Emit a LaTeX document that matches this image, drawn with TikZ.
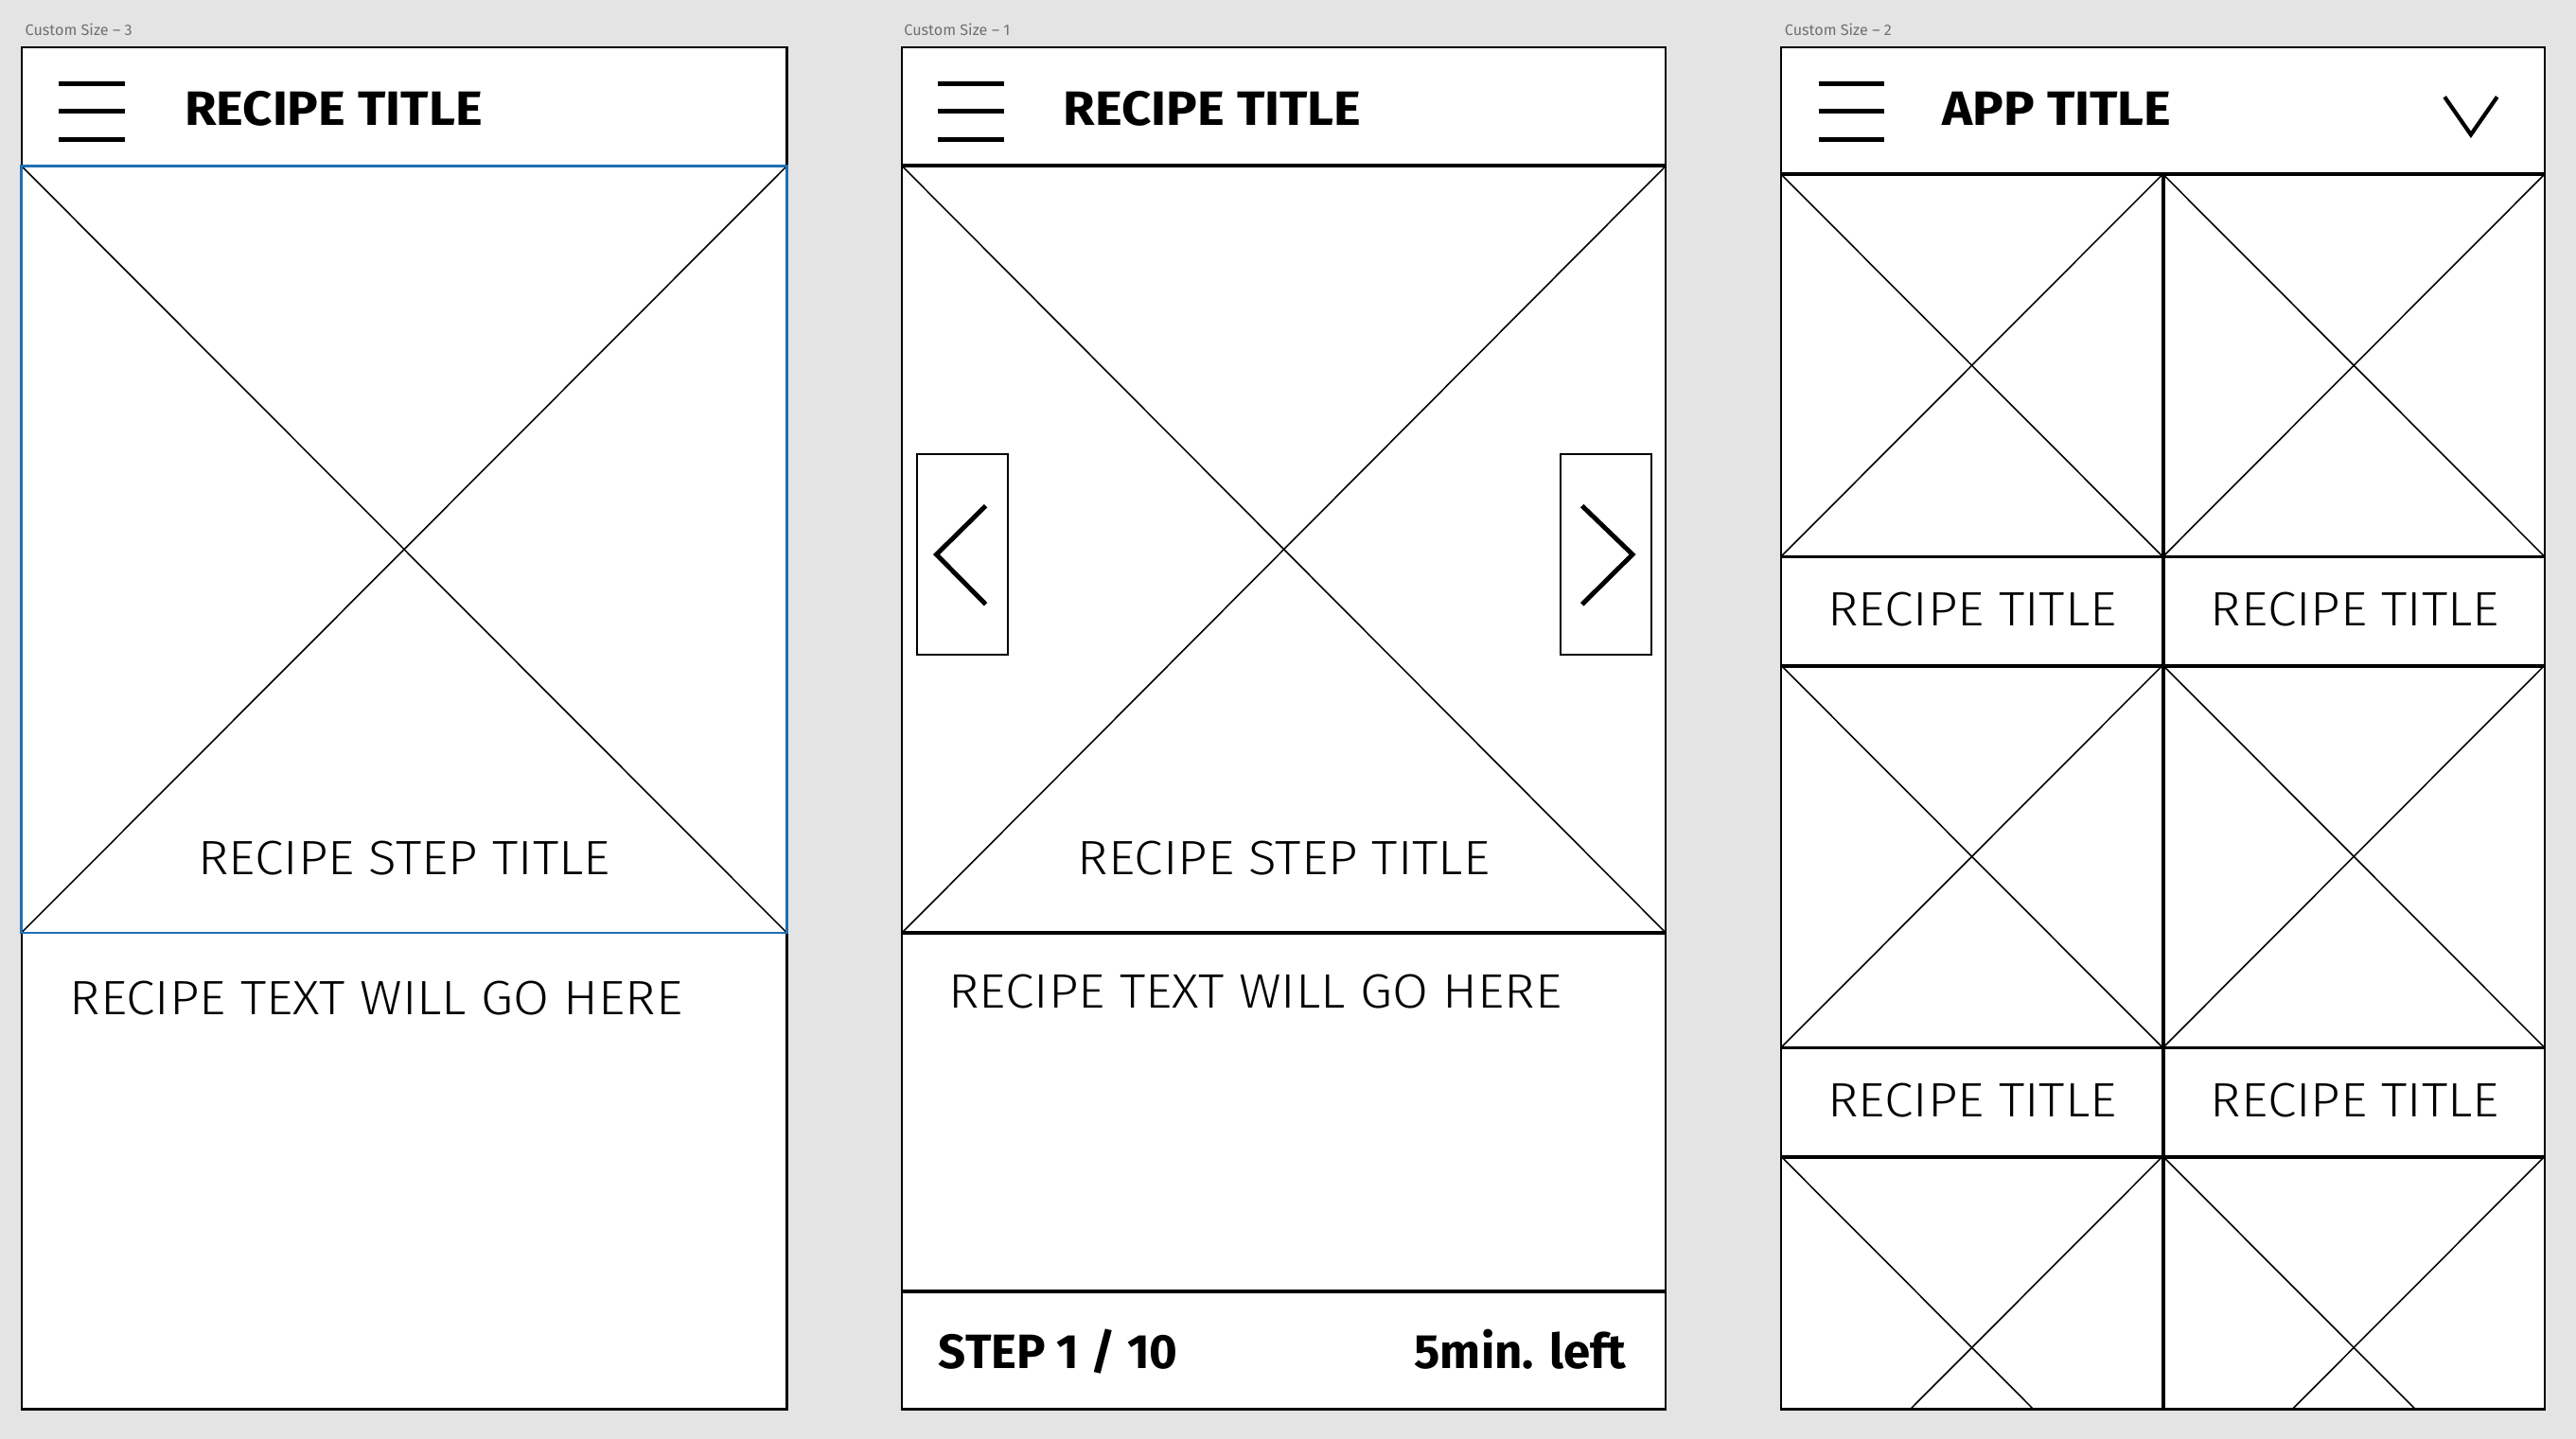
\documentclass[tikz,border=0pt]{standalone}
\usepackage{fontspec}
\setmainfont{Fira Sans}
\newfontfamily\lightfont[FakeStretch=1.08]{Fira Sans Light}
\newfontfamily\headfont[FakeStretch=1.07]{Fira Sans}
\usetikzlibrary{positioning}
\definecolor{bggray}{HTML}{E4E4E4}
\definecolor{capgray}{HTML}{707070}
\definecolor{selblue}{HTML}{1F6FB2}

\begin{document}
\begin{tikzpicture}[x=0.01736cm,y=-0.01736cm,
    panel/.style={draw=black,fill=white,line width=0.6pt},
    cross/.style={line width=0.45pt},
    bar/.style={line width=1.4pt},
    chev/.style={line width=1.4pt},
    rule/.style={line width=1.1pt},
    capt/.style={anchor=base west,text=capgray,font=\fontsize{4.6}{5}\selectfont,inner sep=0pt},
    head/.style={font=\headfont\fontsize{14.5}{16}\selectfont\bfseries,inner sep=0pt},
    foot/.style={font=\fontsize{14.5}{16}\selectfont\bfseries,inner sep=0pt},
    lighttext/.style={font=\lightfont\fontsize{14.5}{16}\selectfont,inner sep=0pt}]
    % background and page captions
    \fill[bggray] (0,0) rectangle (1568,876);
    \node[capt] (cap3) at (15,21.5) {Custom Size – 3};
    \node[capt] (cap1) at (550,21.5) {Custom Size – 1};
    \node[capt] (cap2) at (1086,21.5) {Custom Size – 2};

    % screen 3: one recipe step
    \draw[panel] (13,29) rectangle (479,858);
    \draw[cross] (13,101) -- (479,568);
    \draw[cross] (479,101) -- (13,568);
    \draw[selblue,line width=0.8pt] (13,101) rectangle (479,568);
    \node[head,anchor=base west] (title3) at (112,76.6) {RECIPE TITLE};
    \node[lighttext,anchor=base] (step3) at (246,532.8) {RECIPE STEP TITLE};
    \node[lighttext,anchor=base west] (text3) at (42,618) {RECIPE TEXT WILL GO HERE};

    % screen 1: step with arrows and footer
    \draw[panel] (549,29) rectangle (1014,858);
    \draw[cross] (549,101) -- (1014,568);
    \draw[cross] (1014,101) -- (549,568);
    \draw[rule] (549,101) -- (1014,101);
    \draw[rule] (549,568) -- (1014,568);
    \draw[rule] (549,786.5) -- (1014,786.5);
    \draw[draw=black,fill=white,line width=0.6pt] (558,276.5) rectangle (613.5,398.6);
    \draw[draw=black,fill=white,line width=0.6pt] (950,276.5) rectangle (1005,398.6);
    \draw[chev] (600,308) -- (570,337.6) -- (600,368);
    \draw[chev] (963,308) -- (993.7,337.6) -- (963,368);
    \node[head,anchor=base west] (title1) at (647,76.6) {RECIPE TITLE};
    \node[lighttext,anchor=base] (step1) at (781.5,532.8) {RECIPE STEP TITLE};
    \node[lighttext,anchor=base west] (text1) at (577,614) {RECIPE TEXT WILL GO HERE};
    \node[foot,anchor=base west] (count1) at (571,833.5) {STEP 1 / 10};
    \node[foot,anchor=base east] (left1) at (990,833.5) {5min. left};

    % screen 2: recipe grid
    \draw[panel] (1084,29) rectangle (1549,858);
    \begin{scope}
        \clip (1084,29) rectangle (1549,858);
        \foreach \col in {0,1}
        \foreach \row in {0,1,2} {
            \draw[cross] (1084+\col*232.5,106+\row*299) -- ++(232.5,233);
            \draw[cross] (1316.5+\col*232.5,106+\row*299) -- ++(-232.5,233);
        }
        \foreach \row in {0,1} {
            \draw[rule] (1084,339+\row*299) -- (1549,339+\row*299);
            \draw[rule] (1084,405.5+\row*299) -- (1549,405.5+\row*299);
        }
        \draw[rule] (1084,106) -- (1549,106);
        \draw[rule] (1316.8,106) -- (1316.8,858);
    \end{scope}
    \draw[line width=0.6pt] (1084,29) rectangle (1549,858);
    \foreach \col in {0,1}
    \foreach \row in {0,1}
        \node[lighttext,anchor=base] (name\col\row) at (1200.5+\col*233,380.8+\row*299) {RECIPE TITLE};
    \node[head,anchor=base west] (title2) at (1182,76.6) {APP TITLE};
    \draw[chev,line width=1.2pt] (1488,59) -- (1504,82) -- (1520,59);

    % menu icons
    \foreach \px in {36,571,1107}
    \foreach \py in {51,67.5,85}
        \draw[bar] (\px,\py) -- ++(40,0);
\end{tikzpicture}
\end{document}
